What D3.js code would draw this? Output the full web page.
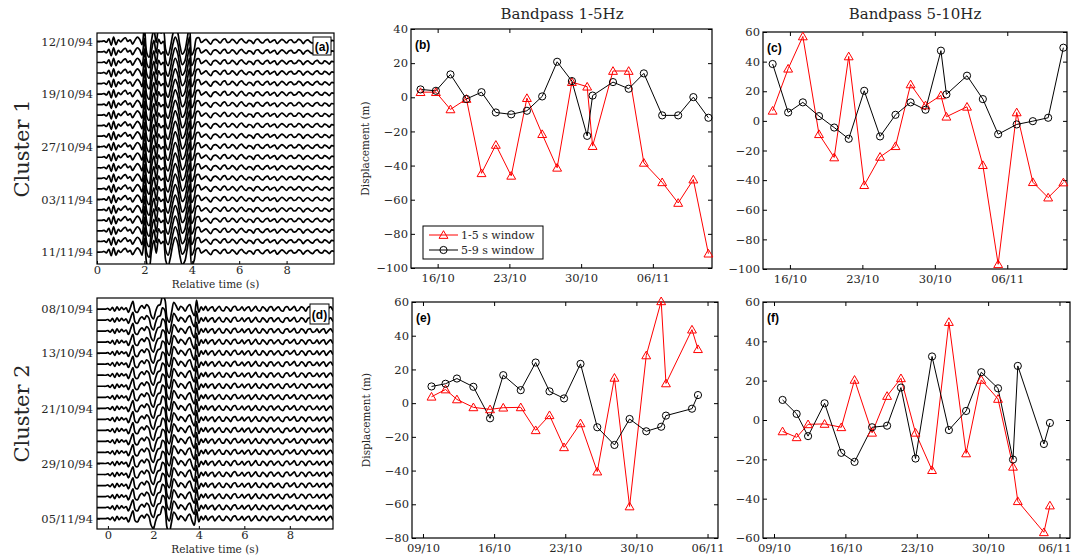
<!DOCTYPE html>
<html><head><meta charset="utf-8">
<script src="https://cdn.jsdelivr.net/npm/d3@7"></script>
<style>
body{margin:0;background:#fff}
svg{display:block}
</style>
</head><body>
<svg id="c" width="1072" height="557"></svg>
<script>
// ---------------- DATA ----------------
// event days (day of October 1994; November n = 31 + n)
const cluster1Days = [14.33,15.83,17.25,18.81,20.28,21.68,23.18,24.71,26.2,27.66,29.1,30.59,31.12,33.11,34.64,36.12,37.91,39.47,40.95,42.42];
const cluster2Days = [9.84,11.22,12.34,13.96,15.6,16.9,18.62,20.09,21.45,22.88,24.5,26.15,27.84,29.33,30.97,32.44,32.91,35.47,36.06];

// (b) cluster 1, bandpass 1-5 Hz
const b_win15 = [3,3,-7.1,-1,-44.5,-27.9,-46,-0.5,-21.6,-41.3,8.9,6.2,-28.6,15.4,15.4,-38.4,-49.8,-61.9,-48.2,-91.6];
const b_win59 = [4.6,3.8,13.4,-1,3,-8.9,-10,-7.9,0.5,20.8,9.5,-22.6,1,8.9,5,14,-10.6,-10.6,0.1,-12];
// (c) cluster 1, bandpass 5-10 Hz
const c_win15 = [6.8,35.2,57,-9,-24.7,43.5,-43.4,-24.3,-17.1,24.6,10.4,17.2,2.8,9.5,-29.9,-96.8,5.7,-41.4,-51.8,-41.6];
const c_win59 = [38.4,5.7,12.5,3.2,-4.5,-12.1,20.3,-10.5,4.1,12.5,7.5,47.4,17.9,30.5,14.7,-9,-2.4,-0.2,2.1,49.4];
// (e) cluster 2, bandpass 1-5 Hz
const e_win15 = [3.8,8.1,2.2,-2.5,-3.7,-2.7,-2.5,-16.1,-7.2,-26.2,-12,-40.6,15,-61.3,28.3,60.4,11.7,43.6,32];
const e_win59 = [9.9,11.5,14.6,9.7,-9,16.6,7.7,24.1,7,2.8,23.3,-14.3,-24.8,-9.4,-16.7,-14,-7.4,-3.3,4.8];
// (f) cluster 2, bandpass 5-10 Hz
const f_win15 = [-5.8,-8.8,-2.2,-2,-3.7,20.4,-6.5,12.2,21.2,-6.5,-25.5,49.8,-17,20.4,10.7,-23.8,-41.3,-57.1,-43.5];
const f_win59 = [10.2,3.1,-8.2,8.5,-16.7,-21.3,-3.7,-2.9,16.5,-19.6,32.3,-5.1,4.6,24.3,16.1,-20.1,27.5,-12.2,-1.5];

const seriesNames = ["1-5 s window","5-9 s window"];
const panelTitles = ["Bandpass 1-5Hz","Bandpass 5-10Hz"];
const clusterNames = ["Cluster 1","Cluster 2"];

const topXDomain = [13.4, 42.77];
const botXDomain = [7.92, 38.03];
const topXTicks = [16,23,30,37];
const botXTicks = [9,16,23,30,37];
const bTicks = [-100,-80,-60,-40,-20,0,20,40];
const cTicks = [-100,-80,-60,-40,-20,0,20,40,60];
const eTicks = [-80,-60,-40,-20,0,20,40,60];
const fTicks = [-60,-40,-20,0,20,40,60];

// waveform stacks (trace amplitude in units of trace spacing, sampled every 0.1 s)
const c1Traces = 21;
const c1T0 = 0.0;
const c1Template = [0,0,0,0.05,-0.08,0.25,-0.35,0.4,-0.3,0.15,-0.05,0.2,0.35,0,0.15,-0.25,0.1,0.4,0.2,-0.3,
 1.3,-1.1,-1.5,0.1,1.1,-0.1,1.2,0.8,1.0,-0.8,-1.3,-0.5,0.7,1.4,0.9,-0.4,-1.2,-0.9,0.2,1.4,
 -1.3,-0.8,0.3,0.35,-0.1,0.05,0.2,-0.05,-0.25,0.1,0.2,0.05,-0.15,0.15,0.25,-0.1,-0.05,0.2,0.05,-0.2,
 0.1,0.25,0,-0.15,0.1,0.05,-0.2,0.15,0.2,-0.05,-0.15,0.1,0.2,-0.1,0.05,0.15,-0.2,0,0.2,0.05,
 -0.15,0.1,0.15,-0.1,-0.05,0.2,0.1,-0.2,0.05,0.15,-0.05,-0.15,0.1,0.2,-0.05,-0.1,0.15,0.05,-0.15,0.1,0.05];
const c1Labels = [[0,"12/10/94"],[5,"19/10/94"],[10,"27/10/94"],[15,"03/11/94"],[20,"11/11/94"]];

const c2Traces = 20;
const c2T0 = -0.5;
const c2Template = [0,0,0,0,0,
 0.05,-0.1,0.15,-0.2,0.2,-0.1,0.15,-0.05,0.1,-0.3,0.2,0.7,-0.2,-0.3,0.1,0.3,0.05,0.4,0.2,-0.6,
 -0.9,-0.2,0.3,0.4,1.1,0.9,-0.8,-1.2,-0.3,0.6,0.3,-0.1,0.25,0.1,-0.2,0.2,0.4,-0.2,-0.6,0.8,
 -0.3,0.2,-0.1,0.25,-0.15,0.1,0.2,-0.2,0.05,0.25,-0.1,-0.15,0.2,0.05,-0.2,0.15,0.25,-0.1,-0.05,0.2,
 -0.15,0.1,0.2,-0.2,0,0.25,-0.1,-0.15,0.2,0.05,-0.2,0.15,0.2,-0.15,0.05,0.2,-0.1,-0.2,0.15,0.2,
 -0.1,0.05,0.25,-0.15,-0.1,0.2,0.1,-0.2,0.15,0.2,-0.1,-0.05,0.2,-0.15,0.1,0.2,-0.2,0.05,0.2,-0.1,0];
const c2Labels = [[0,"08/10/94"],[4,"13/10/94"],[9,"21/10/94"],[14,"29/10/94"],[19,"05/11/94"]];
const waveXTicks = [0,2,4,6,8];

// ---------------- DRAWING ----------------
const W = 1072;
const svg = d3.select("#c");
const serif = '"DejaVu Serif", serif';
const sans = '"Liberation Sans", Arial, sans-serif';
const txtCol = "#262626";
const tickFont = 11.5;
const dayToDate = d => new Date(Date.UTC(1994, 9, 1) + (d - 1) * 864e5);

function styleAxis(g, size){
  g.select(".domain").remove();
  g.selectAll("line").attr("stroke","#000");
  g.selectAll("text").attr("font-family", serif).attr("font-size", size).attr("fill", txtCol);
  g.attr("font-family", serif);
}

function scatterPanel(p){
  const b = p.box;
  const g = svg.append("g");
  const x = d3.scaleUtc().domain(p.xDomain.map(dayToDate)).range([b.x0, b.x1]);
  const y = d3.scaleLinear().domain(p.yDomain).range([b.y1, b.y0]);
  const xt = p.xTicks.map(dayToDate);
  const bottom = g.append("g").attr("transform",`translate(0,${b.y1})`)
    .call(d3.axisBottom(x).tickValues(xt).tickFormat(d3.utcFormat("%d/%m")).tickSizeInner(-4).tickSizeOuter(0).tickPadding(6))
    .call(a => styleAxis(a, tickFont));
  // keep the last date label inside the figure
  bottom.selectAll(".tick").each(function(d){
    const t = d3.select(this).select("text");
    const half = t.node().getComputedTextLength()/2;
    const overflow = x(d) + half - (W - 1);
    if (overflow > 0) t.attr("x", -overflow);
  });
  g.append("g").attr("transform",`translate(0,${b.y0})`)
    .call(d3.axisTop(x).tickValues(xt).tickFormat("").tickSizeInner(-4).tickSizeOuter(0))
    .call(a => styleAxis(a, tickFont));
  g.append("g").attr("transform",`translate(${b.x0},0)`)
    .call(d3.axisLeft(y).tickValues(p.yTicks).tickSizeInner(-4).tickSizeOuter(0).tickPadding(3))
    .call(a => styleAxis(a, tickFont));
  g.append("g").attr("transform",`translate(${b.x1},0)`)
    .call(d3.axisRight(y).tickValues(p.yTicks).tickFormat("").tickSizeInner(-4).tickSizeOuter(0))
    .call(a => styleAxis(a, tickFont));
  g.append("rect").attr("x",b.x0).attr("y",b.y0).attr("width",b.x1-b.x0).attr("height",b.y1-b.y0)
    .attr("fill","none").attr("stroke","#000").attr("stroke-width",1.2);

  const line = d3.line().x(d => x(dayToDate(d[0]))).y(d => y(d[1]));
  const redPts = p.days.map((d,i) => [d, p.red[i]]);
  const blkPts = p.days.map((d,i) => [d, p.black[i]]);
  g.append("path").attr("d", line(redPts)).attr("fill","none").attr("stroke","#ff0000").attr("stroke-width",1);
  g.append("path").attr("d", line(blkPts)).attr("fill","none").attr("stroke","#000").attr("stroke-width",1);
  const tri = d3.symbol(d3.symbolTriangle, 34)();
  g.selectAll(null).data(redPts).join("path").attr("d", tri)
    .attr("transform", d => `translate(${x(dayToDate(d[0]))},${y(d[1])+0.8})`)
    .attr("fill","none").attr("stroke","#ff0000").attr("stroke-width",1);
  g.selectAll(null).data(blkPts).join("circle")
    .attr("cx", d => x(dayToDate(d[0]))).attr("cy", d => y(d[1])).attr("r",3.6)
    .attr("fill","none").attr("stroke","#000").attr("stroke-width",1);

  g.append("text").attr("x", b.x0+4).attr("y", b.y0+20).text(p.label)
    .attr("font-family", sans).attr("font-weight","bold").attr("font-size",12).attr("fill","#000");
  if (p.ylabel){
    g.append("text").attr("transform",`translate(${b.x0-42},${(b.y0+b.y1)/2}) rotate(-90)`)
      .attr("text-anchor","middle").attr("font-family",serif).attr("font-size",10.5).attr("fill",txtCol).text(p.ylabel);
  }
  if (p.legend){
    const L = p.legend;
    const lg = g.append("g");
    lg.append("rect").attr("x",L.x).attr("y",L.y).attr("width",L.w).attr("height",L.h)
      .attr("fill","#fff").attr("stroke","#000").attr("stroke-width",1);
    const rows = [{c:"#ff0000", m:"tri", t:seriesNames[0]},{c:"#000", m:"circ", t:seriesNames[1]}];
    rows.forEach((r,i) => {
      const yy = L.y + 9 + i*15;
      lg.append("line").attr("x1",L.x+6).attr("x2",L.x+35).attr("y1",yy).attr("y2",yy).attr("stroke",r.c).attr("stroke-width",1);
      if (r.m === "tri") lg.append("path").attr("d",tri).attr("transform",`translate(${L.x+20.5},${yy+0.8})`).attr("fill","none").attr("stroke",r.c);
      else lg.append("circle").attr("cx",L.x+20.5).attr("cy",yy).attr("r",3.6).attr("fill","none").attr("stroke",r.c);
      lg.append("text").attr("x",L.x+38).attr("y",yy+4).text(r.t)
        .attr("font-family",serif).attr("font-size",11).attr("fill",txtCol);
    });
  }
}

function wavePanel(p){
  const b = p.box;
  const g = svg.append("g");
  const x = d3.scaleLinear().domain(p.tDomain).range([b.x0, b.x1]);
  const y = d3.scaleLinear().domain(p.traceDomain).range([b.y0, b.y1]);
  const cid = "clip" + p.label.replace(/\W/g,"");
  svg.append("clipPath").attr("id",cid).append("rect")
    .attr("x",b.x0).attr("y",b.y0).attr("width",b.x1-b.x0).attr("height",b.y1-b.y0);
  const pts = p.template.map((v,k) => [p.t0 + k*0.1, v]);
  const line = d3.line().curve(d3.curveCatmullRom.alpha(0.5));
  const wg = g.append("g").attr("clip-path",`url(#${cid})`);
  d3.range(p.n).forEach(i => {
    wg.append("path").attr("d", line(pts.map(d => [x(d[0]), y(i - d[1])])))
      .attr("fill","none").attr("stroke","#000").attr("stroke-width",1.7).attr("stroke-linejoin","round");
  });
  g.append("g").attr("transform",`translate(0,${b.y1})`)
    .call(d3.axisBottom(x).tickValues(waveXTicks).tickFormat(d3.format("d")).tickSizeInner(-3).tickSizeOuter(0).tickPadding(2))
    .call(a => styleAxis(a, tickFont));
  g.append("g").attr("transform",`translate(${b.x0},0)`)
    .call(d3.axisLeft(y).tickValues(p.labels.map(l => l[0])).tickFormat((d,i) => p.labels[i][1]).tickSizeInner(-3).tickSizeOuter(0).tickPadding(4))
    .call(a => styleAxis(a, tickFont));
  g.append("rect").attr("x",b.x0).attr("y",b.y0).attr("width",b.x1-b.x0).attr("height",b.y1-b.y0)
    .attr("fill","none").attr("stroke","#000").attr("stroke-width",1.2);
  const lb = p.labelBox;
  g.append("rect").attr("x",lb.x).attr("y",lb.y).attr("width",lb.w).attr("height",lb.h)
    .attr("fill","#fff").attr("stroke","#000").attr("stroke-width",1);
  g.append("text").attr("x",lb.x+lb.w/2).attr("y",lb.y+lb.h/2+4.5).attr("text-anchor","middle").text(p.label)
    .attr("font-family",sans).attr("font-weight","bold").attr("font-size",12).attr("fill","#000");
  g.append("text").attr("x",(b.x0+b.x1)/2).attr("y",b.y1+23.5).attr("text-anchor","middle")
    .attr("font-family",serif).attr("font-size",10.5).attr("fill",txtCol).text("Relative time (s)");
  g.append("text").attr("transform",`translate(29,${(b.y0+b.y1)/2}) rotate(-90)`).attr("text-anchor","middle")
    .attr("font-family",serif).attr("font-size",21).attr("fill",txtCol).text(p.cluster);
}

wavePanel({box:{x0:97,x1:334,y0:33,y1:264}, tDomain:[0,10], traceDomain:[-0.8,21.14], n:c1Traces,
  template:c1Template, t0:c1T0, labels:c1Labels, label:"(a)", cluster:clusterNames[0],
  labelBox:{x:313,y:37,w:18,h:18}});
wavePanel({box:{x0:97,x1:333,y0:298,y1:529}, tDomain:[-0.48,9.9], traceDomain:[-1,19.94], n:c2Traces,
  template:c2Template, t0:c2T0, labels:c2Labels, label:"(d)", cluster:clusterNames[1],
  labelBox:{x:310,y:304,w:19,h:20}});

scatterPanel({box:{x0:411,x1:712,y0:29,y1:268}, xDomain:topXDomain, xTicks:topXTicks, yDomain:[-100,40], yTicks:bTicks,
  days:cluster1Days, red:b_win15, black:b_win59, label:"(b)", ylabel:"Displacement (m)",
  legend:{x:423,y:226,w:120,h:33}});
scatterPanel({box:{x0:763,x1:1067,y0:32,y1:269}, xDomain:topXDomain, xTicks:topXTicks, yDomain:[-100,60], yTicks:cTicks,
  days:cluster1Days, red:c_win15, black:c_win59, label:"(c)"});
scatterPanel({box:{x0:412,x1:718,y0:302,y1:538}, xDomain:botXDomain, xTicks:botXTicks, yDomain:[-80,60], yTicks:eTicks,
  days:cluster2Days, red:e_win15, black:e_win59, label:"(e)", ylabel:"Displacement (m)"});
scatterPanel({box:{x0:763,x1:1070,y0:302,y1:538}, xDomain:botXDomain, xTicks:botXTicks, yDomain:[-60,60], yTicks:fTicks,
  days:cluster2Days, red:f_win15, black:f_win59, label:"(f)"});

svg.append("text").attr("x",562).attr("y",19).attr("text-anchor","middle").attr("font-family",serif)
  .attr("font-size",15).attr("fill",txtCol).text(panelTitles[0]);
svg.append("text").attr("x",915).attr("y",19).attr("text-anchor","middle").attr("font-family",serif)
  .attr("font-size",15).attr("fill",txtCol).text(panelTitles[1]);
</script>
</body></html>
